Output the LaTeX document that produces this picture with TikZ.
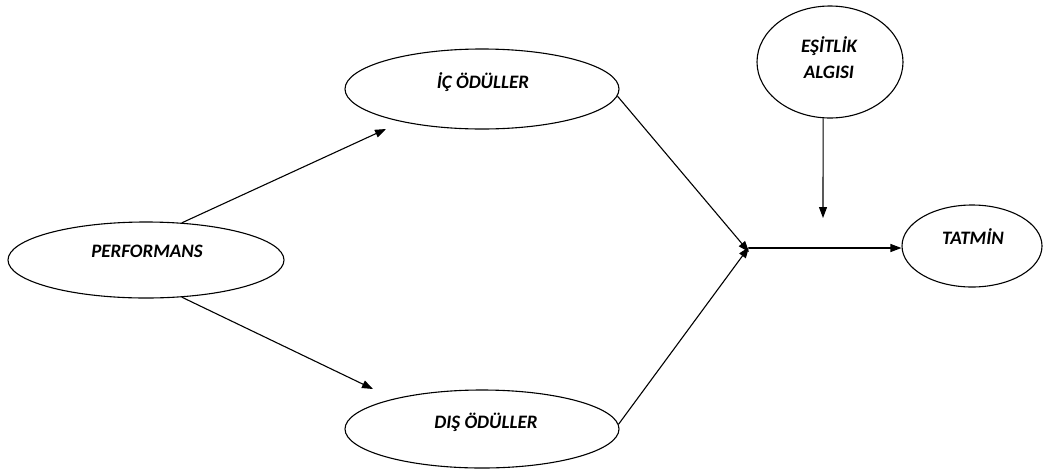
\documentclass[tikz,border=0pt]{standalone}
\usepackage{fontspec}
\setmainfont{Carlito}
\usetikzlibrary{shapes.geometric,arrows.meta}
\begin{document}
\begin{tikzpicture}[x=1pt,y=-1pt,
  oval/.style={ellipse,draw,line width=1.1pt,inner sep=0pt},
  lbl/.style={font=\fontsize{19}{22}\selectfont\bfseries\itshape},
  flow/.style={draw,line width=1.1pt,-{Triangle[length=11pt,width=8pt]}}]
\useasboundingbox (0,0) rectangle (1043,472);
% ovals
\node[oval,minimum width=276,minimum height=76] (perf) at (146,260) {};
\node[oval,minimum width=274,minimum height=80] (ic)   at (482,89)  {};
\node[oval,minimum width=274,minimum height=78] (dis)  at (482,429) {};
\node[oval,minimum width=146,minimum height=112] (esit) at (830,62) {};
\node[oval,minimum width=140,minimum height=82] (tat)  at (972,246) {};
% labels
\node[lbl] (perfT) at (147,251) {PERFORMANS};
\node[lbl] (icT)   at (483,82)  {İÇ ÖDÜLLER};
\node[lbl] (disT)  at (486,422) {DIŞ ÖDÜLLER};
\node[lbl,align=center] (esitT) at (829,58) {EŞİTLİK\\[4pt]ALGISI};
\node[lbl] (tatT)  at (973,237) {TATMİN};
% free ends
\coordinate (J)   at (749,248);
\coordinate (icP) at (386,129);
\coordinate (dsP) at (373,389);
\coordinate (eqP) at (823,218);
% connectors
\draw[flow] (perf.46) -- (icP);
\draw[flow] (perf.-46) -- (dsP);
\draw[flow] (ic.-3) -- ([yshift=-4]J);
\draw[flow] (dis.2) -- ([yshift=1]J);
\draw[flow] (esit.-97) -- (eqP);
\draw[flow] (J) -- (tat.west |- J);
\end{tikzpicture}
\end{document}
